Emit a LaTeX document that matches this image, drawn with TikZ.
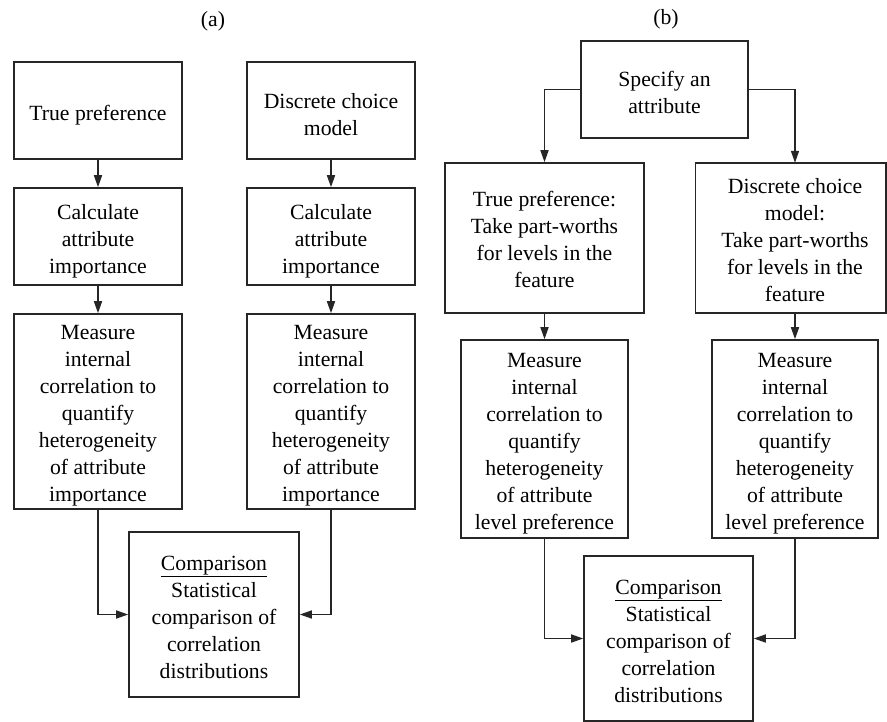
\documentclass[tikz,border=0pt]{standalone}
\usepackage{fontspec}
\setmainfont{Liberation Serif}
\usetikzlibrary{arrows.meta}
\begin{document}
\begin{tikzpicture}[x=1pt,y=-1pt,
  txt/.style={font=\fontsize{21.7}{27}\selectfont, align=center, inner sep=0pt},
  frame/.style={draw=black!85, line width=1.6pt, inner sep=0pt},
  % a framed box whose text sits a little below the geometric centre
  box/.style 2 args={frame, label={[txt, yshift=-#1pt]center:{#2}}},
  flow/.style={draw=black!85, line width=1.6pt, -{Triangle[length=12pt,width=8pt]}}]
\useasboundingbox (0,0) rectangle (887,721);

% ---------- panel (a) ----------
\node[txt] (la) at (213,21) {(a)};

\node[box={4.5}{True preference}, minimum width=168, minimum height=97] (a1) at (98,110.5) {};
\node[box={4.5}{Discrete choice\\model}, minimum width=168, minimum height=97] (a2) at (331,110.5) {};
\node[box={4.5}{Calculate\\attribute\\importance}, minimum width=168, minimum height=97] (a3) at (98,236.5) {};
\node[box={4.5}{Calculate\\attribute\\importance}, minimum width=168, minimum height=97] (a4) at (331,236.5) {};
\node[box={4}{Measure\\internal\\correlation to\\quantify\\heterogeneity\\of attribute\\importance},
  minimum width=168, minimum height=195] (a5) at (98,411.5) {};
\node[box={4}{Measure\\internal\\correlation to\\quantify\\heterogeneity\\of attribute\\importance},
  minimum width=168, minimum height=195] (a6) at (331,411.5) {};
\node[box={2.5}{\underline{Comparison}\\Statistical\\comparison of\\correlation\\distributions},
  minimum width=170, minimum height=165] (ca) at (214,614.5) {};

\draw[flow] (a1.south) -- (a3.north);
\draw[flow] (a3.south) -- (a5.north);
\draw[flow] (a2.south) -- (a4.north);
\draw[flow] (a4.south) -- (a6.north);
\draw[flow] (a5.south) |- (ca.west);
\draw[flow] (a6.south) |- (ca.east);

% ---------- panel (b) ----------
\node[txt] (lb) at (666,19) {(b)};

\node[box={3}{Specify an\\attribute}, minimum width=167, minimum height=97] (s) at (664.5,89.5) {};
\node[box={1.5}{True preference:\\Take part-worths\\for levels in the\\feature},
  minimum width=199, minimum height=150] (b1) at (544.5,238) {};
% right-hand box runs to the page edge, its text stays centred on the arrow
\node[inner sep=0pt, minimum width=199, minimum height=150,
  label={[txt, yshift=-2.5pt]center:{Discrete choice\\model:\\Take part-worths\\for levels in the\\feature}}]
  (b2) at (795,238) {};
\coordinate (edge) at (886,0);
\draw[frame] (b2.south west) rectangle (b2.north -| edge);
\node[box={4.5}{Measure\\internal\\correlation to\\quantify\\heterogeneity\\of attribute\\level preference},
  minimum width=167, minimum height=198] (b3) at (544.5,439) {};
\node[box={4.5}{Measure\\internal\\correlation to\\quantify\\heterogeneity\\of attribute\\level preference},
  minimum width=166, minimum height=198] (b4) at (795,439) {};
\node[box={2.5}{\underline{Comparison}\\Statistical\\comparison of\\correlation\\distributions},
  minimum width=169, minimum height=165] (cb) at (668.5,638.5) {};

\draw[flow] (s.west) -| (b1.north);
\draw[flow] (s.east) -| (b2.north);
\draw[flow] (b1.south) -- (b3.north);
\draw[flow] (b2.south) -- (b4.north);
\draw[flow] (b3.south) |- (cb.west);
\draw[flow] (b4.south) |- (cb.east);
\end{tikzpicture}
\end{document}
